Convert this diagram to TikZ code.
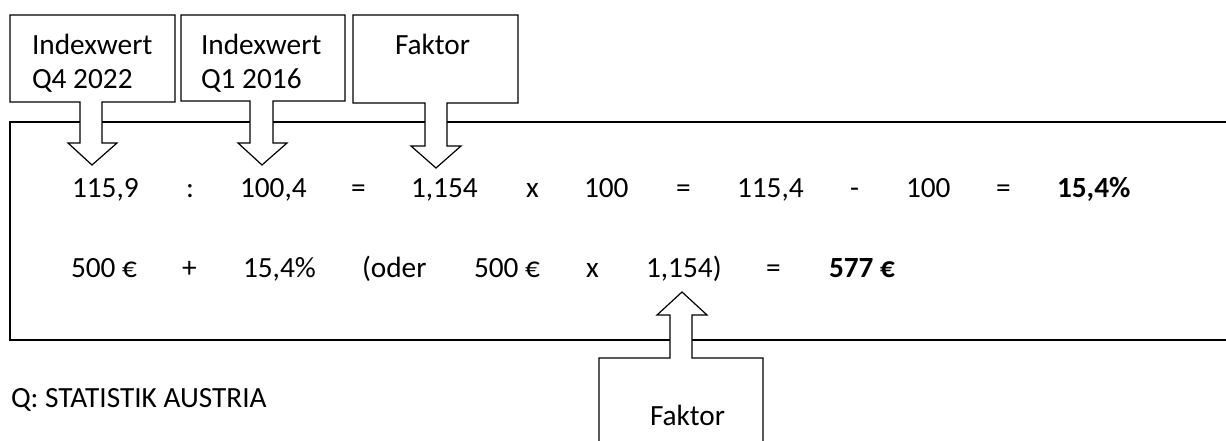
\documentclass[tikz,border=0pt]{standalone}
\usepackage{fontspec}
\setmainfont{Carlito}
\begin{document}
\begin{tikzpicture}[x=1pt,y=-1pt, line width=1.2pt,
  every node/.style={inner sep=0pt, outer sep=0pt, font=\fontsize{29.3}{35}\selectfont},
  lbl/.style={anchor=base west},
  callout/.style={draw=black, fill=white, line join=miter}]
\useasboundingbox (0,0) rectangle (1226,441);
% main frame (open on the right)
\draw (1226,122) -- (10,122) -- (10,340) -- (1226,340);
% callouts
\draw[callout] (10,15) -- (175,15) -- (175,102) -- (102,102) -- (102,143) -- (117,143) -- (92,165) -- (68,143) -- (80,143) -- (80,102) -- (10,102) -- cycle;
\draw[callout] (181,15) -- (345,15) -- (345,101) -- (273,101) -- (273,143) -- (287,143) -- (262,165) -- (238,143) -- (250,143) -- (250,101) -- (181,101) -- cycle;
\draw[callout] (353,15) -- (518,15) -- (518,103) -- (447,103) -- (447,146) -- (461,146) -- (436,168) -- (411,146) -- (425,146) -- (425,103) -- (353,103) -- cycle;
\fill[white] (599,445) -- (599,358) -- (670,358) -- (670,315) -- (657,315) -- (682,292) -- (707,315) -- (692,315) -- (692,358) -- (763,358) -- (763,445) -- cycle;
\draw[line join=miter] (599,445) -- (599,358) -- (670,358) -- (670,315) -- (657,315) -- (682,292) -- (707,315) -- (692,315) -- (692,358) -- (763,358) -- (763,445);
% callout texts
\node[lbl] (c1a) at (32,55) {Indexwert};
\node[lbl] (c1b) at (32,89) {Q4 2022};
\node[lbl] (c2a) at (201,55) {Indexwert};
\node[lbl] (c2b) at (201,89) {Q1 2016};
\node[lbl] (c3) at (395,55) {Faktor};
\node[lbl] (c4) at (650,425) {Faktor};
% row 1
\node[lbl] (r1a) at (72,197) {115,9};
\node[lbl] (r1b) at (186,197) {:};
\node[lbl] (r1c) at (240,197) {100,4};
\node[lbl] (r1d) at (351,197) {=};
\node[lbl] (r1e) at (411,197) {1,154};
\node[lbl] (r1f) at (526,197) {x};
\node[lbl] (r1g) at (584,197) {100};
\node[lbl] (r1h) at (676,197) {=};
\node[lbl] (r1i) at (737,197) {115,4};
\node[lbl] (r1j) at (850,197) {-};
\node[lbl] (r1k) at (906,197) {100};
\node[lbl] (r1l) at (996,197) {=};
\node[lbl,font=\fontsize{29.3}{35}\selectfont\bfseries] (r1m) at (1057,197) {15,4\%};
% row 2
\node[lbl] (r2a) at (71,277) {500 €};
\node[lbl] (r2b) at (182,277) {+};
\node[lbl] (r2c) at (243,277) {15,4\%};
\node[lbl] (r2d) at (362,277) {(oder};
\node[lbl] (r2e) at (474,277) {500 €};
\node[lbl] (r2f) at (586,277) {x};
\node[lbl] (r2g) at (646,277) {1,154)};
\node[lbl] (r2h) at (766,277) {=};
\node[lbl,font=\fontsize{29.3}{35}\selectfont\bfseries] (r2i) at (829,277) {577 €};
% source
\node[lbl] (src) at (11,407) {Q: STATISTIK AUSTRIA};
\end{tikzpicture}
\end{document}
